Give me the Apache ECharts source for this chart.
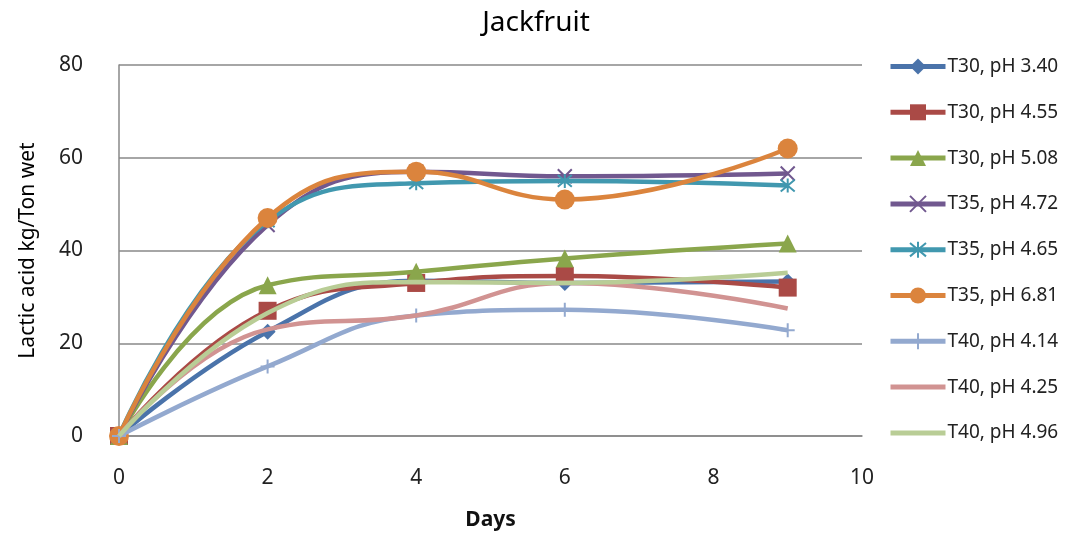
<!DOCTYPE html>
<html><head><meta charset="utf-8">
<script src="https://cdn.jsdelivr.net/npm/echarts@6/dist/echarts.min.js"></script>
<style>html,body{margin:0;padding:0;background:#fff}#c{width:1077px;height:540px}</style>
</head><body><div id="c"></div>
<script>
const days = [0, 2, 4, 6, 9];
const seriesNames = ['T30, pH 3.40','T30, pH 4.55','T30, pH 5.08','T35, pH 4.72','T35, pH 4.65','T35, pH 6.81','T40, pH 4.14','T40, pH 4.25','T40, pH 4.96'];
const t30_340 = [0, 22.5, 33.5, 33, 33.3];
const t30_455 = [0, 27, 33, 34.5, 32];
const t30_508 = [0, 32.5, 35.4, 38.3, 41.5];
const t35_472 = [0, 45.5, 57, 56, 56.6];
const t35_465 = [0, 46.3, 54.5, 55, 54];
const t35_681 = [0, 47, 57, 51, 62];
const t40_414 = [0, 15, 26, 27.2, 22.8];
const t40_425 = [0, 23, 26, 33, 27.5];
const t40_496 = [0, 26.5, 33.2, 33, 35.2];
const yTicks = [0, 20, 40, 60, 80];
const xTicks = [0, 2, 4, 6, 8, 10];

const values = [t30_340,t30_455,t30_508,t35_472,t35_465,t35_681,t40_414,t40_425,t40_496];
const colors = ['#4A73AA','#AA4A46','#8AA64C','#71588F','#4198AF','#DB843D','#93A9CF','#D19392','#B9CD96'];
const symbols = ['diamond','rect','triangle',
  'path://M0,0L10,10M10,0L0,10',
  'path://M0,0L10,10M10,0L0,10M5,-1L5,11',
  'circle',
  'path://M5,0L5,10M0,5L10,5',
  'none','none'];
const sizes = [16,18,18,14,14,20,14,0,0];
const strokeOnly = [false,false,false,true,true,false,true,false,false];

const chart = echarts.init(document.getElementById('c'));
const font = '"Noto Sans", sans-serif';
chart.setOption({
  animation:false,
  title:{text:'Jackfruit',left:531,top:4,textAlign:'center',textStyle:{fontFamily:font,fontSize:28,fontWeight:'normal',color:'#000'}},
  grid:{left:119,right:215,top:65,bottom:104},
  legend:{orient:'vertical',left:888,top:57,padding:0,itemGap:26.8,itemWidth:55,itemHeight:20,
    lineStyle:{width:5},
    textStyle:{fontFamily:font,fontSize:19,color:'#222',padding:[0,0,0,-3]},
    data:seriesNames.map((n,i)=>symbols[i]==='none'?{name:n,itemStyle:{opacity:0}}:{name:n})},
  xAxis:{type:'value',min:0,max:10,interval:2,
    name:'Days',nameLocation:'middle',nameGap:74,
    nameTextStyle:{fontFamily:font,fontSize:21,fontWeight:'bold',color:'#111'},
    axisLine:{show:true,lineStyle:{color:'#888',width:1.5}},
    axisTick:{show:false},
    axisLabel:{fontFamily:font,fontSize:21,color:'#222',margin:32,formatter:v=>xTicks.includes(v)?String(v):''},
    splitLine:{show:false}},
  yAxis:{type:'value',min:0,max:80,interval:20,
    name:'Lactic acid kg/Ton wet',nameLocation:'middle',nameGap:80,
    nameTextStyle:{fontFamily:font,fontSize:21,color:'#000'},
    axisLine:{show:true,lineStyle:{color:'#888',width:1.5}},
    axisTick:{show:false},
    axisLabel:{fontFamily:font,fontSize:21,color:'#222',margin:36,formatter:v=>yTicks.includes(v)?String(v):''},
    splitLine:{show:true,lineStyle:{color:'#888',width:1.5}}},
  series:values.map((vals,i)=>({
    name:seriesNames[i],type:'line',smooth:0.45,
    data:vals.map((v,j)=>[days[j],v]),
    symbol:symbols[i],symbolSize:sizes[i],showSymbol:symbols[i]!=='none',
    lineStyle:{color:colors[i],width:4.5},
    itemStyle:strokeOnly[i]?{color:'rgba(0,0,0,0)',borderColor:colors[i],borderWidth:2}:{color:colors[i],borderWidth:0},
    z:2+i
  }))
});
</script></body></html>
